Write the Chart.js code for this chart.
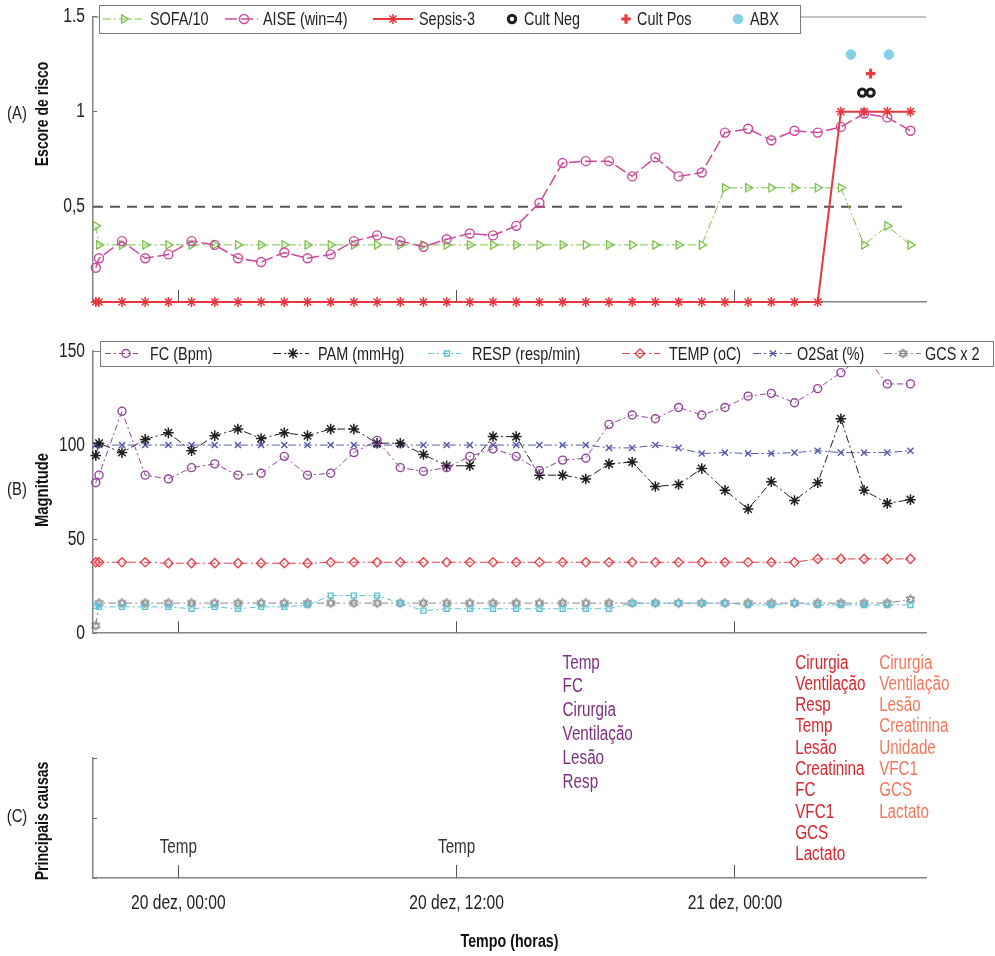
<!DOCTYPE html>
<html>
<head>
<meta charset="utf-8">
<script src="https://cdn.jsdelivr.net/npm/chart.js@4.4.1/dist/chart.umd.min.js"></script>
<style>
  html, body { margin: 0; padding: 0; background: #fff; }
  #wrap { position: relative; width: 995px; height: 956px; overflow: hidden; background: #fff; }
  canvas { position: absolute; left: 0; }
  .lbl { position: absolute; white-space: nowrap; color: #222; line-height: 1;
         font-family: "Liberation Sans", Arial, sans-serif; }
  .tag { font-size: 19px; transform: translate(-50%, -50%) scaleX(0.78); }
  .ytitle { font-weight: bold; color: #111; transform: translate(-50%, -50%) rotate(-90deg) scaleX(0.78); }
</style>
</head>
<body>
<div id="wrap">
  <canvas id="cA" width="995" height="320" style="top:0px"></canvas>
  <canvas id="cB" width="995" height="320" style="top:320px"></canvas>
  <canvas id="cC" width="995" height="316" style="top:640px"></canvas>

  <div class="lbl tag" style="left:17px; top:112px">(A)</div>
  <div class="lbl ytitle" style="left:42px; top:114px; font-size:18px">Escore de risco</div>
  <div class="lbl tag" style="left:17px; top:488px">(B)</div>
  <div class="lbl ytitle" style="left:41px; top:490px; font-size:19px">Magnitude</div>
  <div class="lbl tag" style="left:17px; top:815px">(C)</div>
  <div class="lbl ytitle" style="left:42px; top:821px; font-size:18px">Principais causas</div>
</div>

<script>
// ---- time axis (hours from 20 dez, 00:00) ----
const times = [-3.56, -3.42,
  -2.43, -1.43, -0.43, 0.57, 1.57, 2.57, 3.57, 4.57, 5.57, 6.57,
  7.57, 8.57, 9.57, 10.57, 11.57, 12.57, 13.57, 14.57, 15.57, 16.57,
  17.57, 18.57, 19.57, 20.57, 21.57, 22.57, 23.57, 24.57, 25.57, 26.57,
  27.57, 28.57, 29.57, 30.57, 31.57];
const xTickHours = [0, 12, 24];
const xTickLabels = ['20 dez, 00:00', '20 dez, 12:00', '21 dez, 00:00'];

// ---- panel A: risk scores ----
const sofa10 = [0.4, 0.3,
  0.3, 0.3, 0.3, 0.3, 0.3, 0.3, 0.3, 0.3, 0.3, 0.3,
  0.3, 0.3, 0.3, 0.3, 0.3, 0.3, 0.3, 0.3, 0.3, 0.3,
  0.3, 0.3, 0.3, 0.3, 0.3, 0.3, 0.6, 0.6, 0.6, 0.6,
  0.6, 0.6, 0.3, 0.4, 0.3];
const aise = [0.18, 0.23,
  0.32, 0.23, 0.25, 0.32, 0.30, 0.23, 0.21, 0.26, 0.23, 0.25,
  0.32, 0.35, 0.32, 0.29, 0.33, 0.36, 0.35, 0.40, 0.52, 0.73,
  0.74, 0.74, 0.66, 0.76, 0.66, 0.68, 0.89, 0.91, 0.85, 0.90,
  0.89, 0.92, 0.99, 0.97, 0.90];
const sepsis3 = [0, 0,
  0, 0, 0, 0, 0, 0, 0, 0, 0, 0,
  0, 0, 0, 0, 0, 0, 0, 0, 0, 0,
  0, 0, 0, 0, 0, 0, 0, 0, 0, 0,
  0, 1, 1, 1, 1];
const cultNegTimes = [29.49, 29.85];
const cultNegLevels = [1.1, 1.1];
const cultPosTimes = [29.85];
const cultPosLevels = [1.2];
const abxTimes = [29.0, 30.64];
const abxLevels = [1.3, 1.3];
const thresholdTimes = [-3.68, 31.25];
const thresholdLevels = [0.5, 0.5];
const yTicksA = [0.5, 1, 1.5];
const yTickLabelsA = ['0,5', '1', '1.5'];

// ---- panel B: vital signs ----
const fc = [80, 84,
  118, 84, 82, 88, 90, 84, 85, 94, 84, 85,
  96, 102.5, 88, 86, 88, 94, 98, 94, 86.5, 92,
  93, 111, 116, 114, 120, 116, 120, 126, 127.5, 122.5,
  130, 138.5, 148, 132.5, 132.5];
const pam = [94.5, 101,
  96, 103, 106.5, 97, 105, 108.5, 103.5, 106.5, 105, 108.5,
  108.5, 101, 101, 95, 89, 89, 104.5, 104.5, 84, 84,
  82, 90, 91, 78, 79, 87.5, 76, 66, 80.5, 70.5,
  80, 114, 76, 69, 71];
const resp = [14.5, 14,
  14, 14, 14, 13, 14, 13, 14, 14, 15, 20,
  20, 20, 16, 12, 13, 13, 13, 13, 13, 13,
  13, 13, 16, 16, 16, 16, 16, 15, 15, 16,
  15, 15, 15, 15, 15];
const temp = [37.7, 37.7,
  37.7, 37.7, 37.2, 37.2, 37.2, 37.2, 37.2, 37.2, 37.2, 37.7,
  37.7, 37.7, 37.7, 37.7, 37.7, 37.7, 37.7, 37.7, 37.7, 37.7,
  37.7, 37.7, 37.7, 37.7, 37.7, 37.7, 37.7, 37.7, 37.7, 37.7,
  39.5, 39.5, 39.5, 39.5, 39.5];
const o2sat = [100, 100,
  100, 100, 100, 100, 100, 100, 100, 100, 100, 100,
  100, 100, 100, 100, 100, 100, 100, 100, 100, 100,
  100, 98.5, 98.5, 100, 98.5, 95.5, 96, 95.5, 95.5, 96,
  97, 96, 96, 96, 97];
const gcs2 = [4, 16,
  16, 16, 16, 16, 16, 16, 16, 16, 16, 16,
  16, 16, 16, 16, 16, 16, 16, 16, 16, 16,
  16, 16, 16, 16, 16, 16, 16, 16, 16, 16,
  16, 16, 16, 16, 18];
const yTicksB = [0, 50, 100, 150];
const yTickLabelsB = ['0', '50', '100', '150'];

// ---- panel C: main causes ----
const causeTimes = [0, 12, 16.57, 26.6, 30.22];
const causeLevels = [0.5, 0.5, 3.58, 3.58, 3.58];
const causeLists = [
  ['Temp'],
  ['Temp'],
  ['Temp', 'FC', 'Cirurgia', 'Ventilação', 'Lesão', 'Resp'],
  ['Cirurgia', 'Ventilação', 'Resp', 'Temp', 'Lesão', 'Creatinina', 'FC', 'VFC1', 'GCS', 'Lactato'],
  ['Cirurgia', 'Ventilação', 'Lesão', 'Creatinina', 'Unidade', 'VFC1', 'GCS', 'Lactato']
];

// ---------------------------------------------------------------
const FAMILY = '"Liberation Sans", Arial, sans-serif';
const NARROW_K = 0.78;          // horizontal squeeze giving a narrow face
Chart.defaults.font.family = FAMILY;
Chart.defaults.color = '#222';
Chart.defaults.animation = false;

const X_MIN = -3.68, X_MAX = 32.24;
const AXIS_GRAY = '#858585';

function pts(xs, ys) { return xs.map((x, i) => ({ x: x, y: ys[i] })); }

// hexagram marker used for the GCS series
function hexagram(color, r) {
  const s = Math.ceil(2 * r + 3);
  const c = document.createElement('canvas');
  c.width = s; c.height = s;
  const g = c.getContext('2d');
  g.strokeStyle = color; g.lineWidth = 1;
  [-Math.PI / 2, Math.PI / 2].forEach(a0 => {
    g.beginPath();
    for (let k = 0; k < 3; k++) {
      const a = a0 + k * 2 * Math.PI / 3;
      const px = s / 2 + r * Math.cos(a), py = s / 2 + r * Math.sin(a);
      if (k) g.lineTo(px, py); else g.moveTo(px, py);
    }
    g.closePath(); g.stroke();
  });
  return c;
}

// keep label overhang from shrinking the plotting area
function noOverhang(s) { s.paddingTop = 0; s.paddingBottom = 0; s.paddingLeft = 0; s.paddingRight = 0; }

function xAxis(bottomSpace, extra) {
  return Object.assign({
    type: 'linear', position: 'bottom', min: X_MIN, max: X_MAX,
    afterBuildTicks: s => { s.ticks = xTickHours.map(v => ({ value: v })); },
    ticks: { display: false },
    grid: { drawOnChartArea: false, tickLength: -12, color: '#555', lineWidth: 1 },
    border: { color: AXIS_GRAY, width: 1.5 },
    afterFit: s => { s.height = bottomSpace; noOverhang(s); }
  }, extra || {});
}

function yAxis(min, max, tickVals, tickLabels, showLabels) {
  return {
    type: 'linear', position: 'left', min: min, max: max,
    afterBuildTicks: s => { s.ticks = tickVals.map(v => ({ value: v })); },
    ticks: { display: showLabels, callback: (v, i) => tickLabels[i], font: { size: 20 }, color: '#222', padding: 12 },
    grid: { drawOnChartArea: false, tickLength: -4, color: '#666' },
    border: { color: AXIS_GRAY, width: 1.5 },
    afterFit: s => { s.width = 93; noOverhang(s); }
  };
}

// all canvas text is set in a horizontally condensed form
const narrowText = {
  id: 'narrowText',
  beforeInit(chart) {
    const ctx = chart.ctx;
    const orig = ctx.fillText;
    ctx.fillText = function (text, x, y, maxWidth) {
      this.save();
      this.translate(x, y);
      this.scale(NARROW_K, 1);
      if (maxWidth === undefined) orig.call(this, text, 0, 0);
      else orig.call(this, text, 0, 0, maxWidth / NARROW_K);
      this.restore();
    };
  }
};

// thin top frame line of a panel
const topFrame = {
  id: 'topFrame',
  beforeDatasetsDraw(chart, args, opts) {
    if (!opts.show) return;
    const { ctx, chartArea } = chart;
    ctx.save();
    ctx.strokeStyle = AXIS_GRAY; ctx.lineWidth = 1.2;
    ctx.beginPath();
    ctx.moveTo(chartArea.left, chartArea.top + 0.5);
    ctx.lineTo(chartArea.right, chartArea.top + 0.5);
    ctx.stroke();
    ctx.restore();
  }
};

// boxed legend drawn over the plot, using each dataset's own styling
const boxLegend = {
  id: 'boxLegend',
  afterDraw(chart, args, opts) {
    if (!opts.items) return;
    const ctx = chart.ctx, b = opts.box;
    ctx.save();
    ctx.fillStyle = '#fff';
    ctx.fillRect(b.x, b.y, b.w, b.h);
    ctx.strokeStyle = '#7a7a7a'; ctx.lineWidth = 1;
    ctx.strokeRect(b.x + 0.5, b.y + 0.5, b.w, b.h);
    const cy = b.y + b.h / 2;
    opts.items.forEach(it => {
      const ds = chart.data.datasets[it.ds];
      if (it.line) {
        ctx.setLineDash(ds.borderDash || []);
        ctx.strokeStyle = ds.borderColor;
        ctx.lineWidth = ds.borderWidth;
        ctx.beginPath(); ctx.moveTo(it.line[0], cy); ctx.lineTo(it.line[1], cy); ctx.stroke();
      }
      ctx.setLineDash([]);
      ctx.strokeStyle = ds.pointBorderColor || ds.borderColor;
      ctx.fillStyle = ds.pointBackgroundColor || 'rgba(0,0,0,0)';
      ctx.lineWidth = ds.pointBorderWidth || 1;
      Chart.helpers.drawPoint(ctx, {
        pointStyle: ds.pointStyle, rotation: ds.pointRotation || 0,
        radius: ds.pointRadius, borderWidth: ds.pointBorderWidth || 1
      }, it.marker, cy);
      ctx.fillStyle = '#222';
      ctx.font = opts.font;
      ctx.textAlign = 'left'; ctx.textBaseline = 'middle';
      ctx.fillText(ds.label, it.text, cy + 1);
    });
    ctx.restore();
  }
};

// lists of contributing causes placed on the time axis
const causeText = {
  id: 'causeText',
  afterDatasetsDraw(chart, args, opts) {
    if (!opts.colors) return;
    const { ctx } = chart, xs = chart.scales.x, ys = chart.scales.y;
    ctx.save();
    ctx.font = opts.font;
    ctx.textBaseline = 'middle';
    causeLists.forEach((list, k) => {
      const px = xs.getPixelForValue(causeTimes[k]);
      const py = ys.getPixelForValue(causeLevels[k]);
      ctx.fillStyle = opts.colors[k];
      ctx.textAlign = opts.align[k];
      list.forEach((t, j) => ctx.fillText(t, px, py + j * opts.lineHeights[k]));
    });
    ctx.restore();
  }
};

Chart.register(narrowText, topFrame, boxLegend, causeText);

const common = { responsive: false, maintainAspectRatio: false, animation: false, events: [] };

// ---------------- panel A ----------------
new Chart(document.getElementById('cA'), {
  type: 'scatter',
  data: {
    datasets: [
      { label: 'Sepsis-3', data: pts(times, sepsis3), showLine: true, clip: false,
        borderColor: '#e8373d', borderWidth: 2, pointStyle: 'star', pointRadius: 5,
        pointBorderColor: '#e8373d', pointBorderWidth: 1.5 },
      { label: 'Cult Pos', data: pts(cultPosTimes, cultPosLevels), showLine: false, clip: false,
        borderColor: '#ee3b3b', pointStyle: 'cross', pointRadius: 4.8, pointBorderWidth: 3.2,
        pointBorderColor: '#ee3b3b' },
      { label: 'Cult Neg', data: pts(cultNegTimes, cultNegLevels), showLine: false, clip: false,
        borderColor: '#1e1e1e', pointStyle: 'circle', pointRadius: 3.7, pointBorderWidth: 3,
        pointBorderColor: '#1e1e1e', pointBackgroundColor: '#fff' },
      { label: 'ABX', data: pts(abxTimes, abxLevels), showLine: false, clip: false,
        borderColor: '#86d0e6', pointStyle: 'circle', pointRadius: 4.8, pointBorderWidth: 1,
        pointBorderColor: '#86d0e6', pointBackgroundColor: '#86d0e6' },
      { label: 'AISE (win=4)', data: pts(times, aise), showLine: true, clip: false,
        borderColor: '#cc4a9e', borderWidth: 1.5, borderDash: [12, 4], pointStyle: 'circle', pointRadius: 4.5,
        pointBorderColor: '#cc4a9e', pointBorderWidth: 1.4, pointBackgroundColor: 'rgba(0,0,0,0)' },
      { label: 'SOFA/10', data: pts(times, sofa10), showLine: true, clip: false,
        borderColor: '#7cc24c', borderWidth: 1, borderDash: [8, 3, 2, 3], pointStyle: 'triangle', pointRotation: 90,
        pointRadius: 4.8, pointBorderColor: '#7cc24c', pointBorderWidth: 1.3, pointBackgroundColor: 'rgba(0,0,0,0)' },
      { label: 'limiar', data: pts(thresholdTimes, thresholdLevels), showLine: true, clip: false,
        borderColor: '#555', borderWidth: 2, borderDash: [10, 7], pointRadius: 0 }
    ]
  },
  options: Object.assign({}, common, {
    layout: { padding: { top: 16.5, right: 69, left: 0, bottom: 0 } },
    scales: {
      x: xAxis(320 - 302),
      y: yAxis(0, 1.5, yTicksA, yTickLabelsA, true)
    },
    plugins: {
      legend: { display: false }, tooltip: { enabled: false },
      topFrame: { show: true },
      boxLegend: {
        font: '18.5px ' + FAMILY,
        box: { x: 99, y: 5, w: 701, h: 28 },
        items: [
          { ds: 5, line: [103, 142], marker: 124, text: 150 },
          { ds: 4, line: [225, 258], marker: 244, text: 263 },
          { ds: 0, line: [373, 413], marker: 393, text: 419 },
          { ds: 2, marker: 512, text: 524 },
          { ds: 1, marker: 626, text: 637 },
          { ds: 3, marker: 738, text: 750 }
        ]
      }
    }
  })
});

// ---------------- panel B ----------------
const gcsMarker = hexagram('#777', 4.8);
new Chart(document.getElementById('cB'), {
  type: 'scatter',
  data: {
    datasets: [
      { label: 'FC (Bpm)', data: pts(times, fc), showLine: true, clip: false,
        borderColor: '#93449a', borderWidth: 1, borderDash: [6, 3, 2, 3], pointStyle: 'circle', pointRadius: 4,
        pointBorderColor: '#93449a', pointBorderWidth: 1.4, pointBackgroundColor: 'rgba(0,0,0,0)' },
      { label: 'PAM (mmHg)', data: pts(times, pam), showLine: true, clip: false,
        borderColor: '#1e1e1e', borderWidth: 1, borderDash: [8, 3, 2, 3], pointStyle: 'star', pointRadius: 5.3,
        pointBorderColor: '#1e1e1e', pointBorderWidth: 1.5 },
      { label: 'RESP (resp/min)', data: pts(times, resp), showLine: true, clip: false,
        borderColor: '#5cc3d6', borderWidth: 1, borderDash: [6, 3, 2, 3], pointStyle: 'rect', pointRadius: 3.5,
        pointBorderColor: '#5cc3d6', pointBorderWidth: 1.4, pointBackgroundColor: 'rgba(0,0,0,0)' },
      { label: 'TEMP (oC)', data: pts(times, temp), showLine: true, clip: false,
        borderColor: '#e2444b', borderWidth: 1, borderDash: [8, 3, 2, 3], pointStyle: 'rectRot', pointRadius: 4.6,
        pointBorderColor: '#e2444b', pointBorderWidth: 1.4, pointBackgroundColor: 'rgba(0,0,0,0)' },
      { label: 'O2Sat (%)', data: pts(times, o2sat), showLine: true, clip: false,
        borderColor: '#5559a8', borderWidth: 1, borderDash: [8, 3, 2, 3], pointStyle: 'crossRot', pointRadius: 4.3,
        pointBorderColor: '#5559a8', pointBorderWidth: 1.4 },
      { label: 'GCS x 2', data: pts(times, gcs2), showLine: true, clip: false,
        borderColor: '#888', borderWidth: 1, borderDash: [8, 3, 2, 3], pointStyle: gcsMarker, pointRadius: 4.8,
        pointBorderColor: '#777', pointBorderWidth: 1 }
    ]
  },
  options: Object.assign({}, common, {
    layout: { padding: { top: 31, right: 69, left: 0, bottom: 0 } },
    scales: {
      x: xAxis(320 - 316),
      y: yAxis(0, 150, yTicksB, yTickLabelsB, true)
    },
    plugins: {
      legend: { display: false }, tooltip: { enabled: false },
      topFrame: { show: true },
      boxLegend: {
        font: '18.5px ' + FAMILY,
        box: { x: 100, y: 21, w: 893, h: 25 },
        items: [
          { ds: 0, line: [105, 138], marker: 126, text: 150 },
          { ds: 1, line: [273, 309], marker: 293, text: 318 },
          { ds: 2, line: [428, 461], marker: 447, text: 472 },
          { ds: 3, line: [622, 660], marker: 640, text: 669 },
          { ds: 4, line: [753, 792], marker: 773, text: 797 },
          { ds: 5, line: [884, 921], marker: 903, text: 925 }
        ]
      }
    }
  })
});

// ---------------- panel C ----------------
new Chart(document.getElementById('cC'), {
  type: 'scatter',
  data: {
    datasets: [
      { label: 'causas', data: pts(causeTimes, causeLevels), showLine: false, pointRadius: 0, clip: false }
    ]
  },
  options: Object.assign({}, common, {
    layout: { padding: { top: 118, right: 69, left: 0, bottom: 0 } },
    scales: {
      x: xAxis(316 - 238, {
        ticks: { display: true, autoSkip: false, maxRotation: 0, padding: 26.6,
                 callback: (v, i) => xTickLabels[i], font: { size: 20 }, color: '#222' },
        grid: { drawOnChartArea: false, tickLength: -13, color: '#555', lineWidth: 1 },
        title: { display: true, text: 'Tempo (horas)', color: '#111',
                 font: { size: 18.3, weight: 'bold' }, padding: { top: 0, bottom: 3 } }
      }),
      y: yAxis(0, 2, [0, 1, 2], ['', '', ''], false)
    },
    plugins: {
      legend: { display: false }, tooltip: { enabled: false },
      topFrame: { show: false },
      causeText: {
        font: '19.5px ' + FAMILY,
        colors: ['#333', '#333', '#7e2f80', '#d8272f', '#f2785c'],
        align: ['center', 'center', 'left', 'left', 'left'],
        lineHeights: [21.3, 21.3, 23.9, 21.3, 21.3]
      }
    }
  })
});
</script>
</body>
</html>
